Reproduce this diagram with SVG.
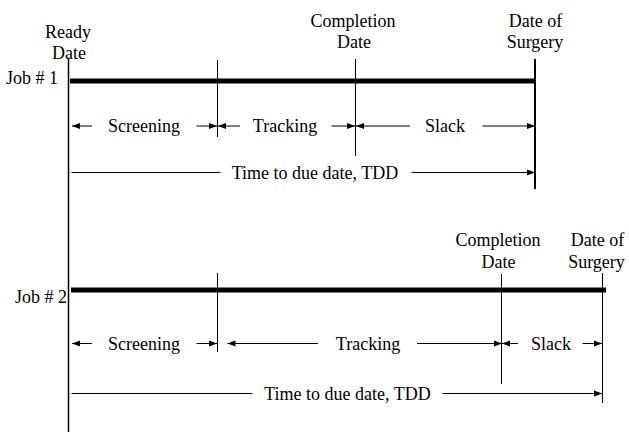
<svg xmlns="http://www.w3.org/2000/svg" width="629" height="432" viewBox="0 0 629 432">
  <style>
    text { font-family: "Liberation Serif", "Times New Roman", serif; font-size: 18px; fill: #000; }
    .mid { text-anchor: middle; }
    .end { text-anchor: end; }
    .bar { stroke: #000; stroke-width: 5; }
    .tick { stroke: #000; stroke-width: 1; fill: none; }
    .dim { stroke: #000; stroke-width: 1; fill: none; }
    .arr { stroke: #000; stroke-width: 1; fill: none; marker-end: url(#head); }
  </style>
  <defs>
    <marker id="head" markerUnits="userSpaceOnUse" markerWidth="9" markerHeight="7" refX="8" refY="3.5" orient="auto">
      <path d="M0,0.5 L8,3.5 L0,6.5 Z" fill="#000"/>
    </marker>
  </defs>
  <rect width="629" height="432" fill="#fff"/>

  <!-- shared start line -->
  <g id="ready-date">
    <line x1="68.5" y1="58" x2="68.5" y2="432" stroke="#000" stroke-width="1.5"/>
    <text class="mid" x="68" y="38">Ready</text>
    <text class="mid" x="69" y="59">Date</text>
  </g>

  <!-- job 1 timeline -->
  <g id="job1">
    <text class="end" x="58" y="84">Job # 1</text>
    <line class="bar" x1="70" y1="81" x2="535" y2="81"/>
    <line class="tick" x1="217.5" y1="60" x2="217.5" y2="137"/>
    <text class="mid" x="144" y="132">Screening</text>
    <text class="mid" x="285" y="132">Tracking</text>
    <text class="mid" x="445" y="132">Slack</text>
    <text class="mid" x="315" y="179">Time to due date, TDD</text>
  </g>
  <g id="job1-completion">
    <line class="tick" x1="355.5" y1="59" x2="355.5" y2="156"/>
    <text class="mid" x="353" y="27">Completion</text>
    <text class="mid" x="354" y="48">Date</text>
  </g>
  <g id="job1-surgery">
    <line x1="535" y1="59" x2="535" y2="189" stroke="#000" stroke-width="2"/>
    <text class="mid" x="535.5" y="27">Date of</text>
    <text class="mid" x="535" y="48">Surgery</text>
  </g>

  <!-- job 2 timeline -->
  <g id="job2">
    <text class="end" x="67" y="303">Job # 2</text>
    <line class="bar" x1="71" y1="290" x2="606" y2="290"/>
    <line class="tick" x1="217.5" y1="273" x2="217.5" y2="352"/>
    <text class="mid" x="144" y="350">Screening</text>
    <text class="mid" x="368" y="350">Tracking</text>
    <text class="mid" x="551" y="350">Slack</text>
    <text class="mid" x="347.5" y="400">Time to due date, TDD</text>
  </g>
  <g id="job2-completion">
    <line class="tick" x1="501.5" y1="274" x2="501.5" y2="384"/>
    <text class="mid" x="498" y="246">Completion</text>
    <text class="mid" x="498.5" y="268">Date</text>
  </g>
  <g id="job2-surgery">
    <line class="tick" x1="602.5" y1="273" x2="602.5" y2="403"/>
    <text class="mid" x="597.5" y="246">Date of</text>
    <text class="mid" x="596.5" y="268">Surgery</text>
  </g>

  <!-- dimension arrows -->
  <g id="connectors">
    <!-- job 1 phases -->
    <line class="arr" x1="92" y1="126" x2="72" y2="126"/>
    <line class="arr" x1="196.5" y1="126" x2="217" y2="126"/>
    <line class="arr" x1="240" y1="126" x2="218" y2="126"/>
    <line class="arr" x1="331.5" y1="126" x2="355" y2="126"/>
    <line class="arr" x1="410" y1="126" x2="356" y2="126"/>
    <line class="arr" x1="482.5" y1="126" x2="535" y2="126"/>
    <!-- job 1 due date -->
    <line class="dim" x1="71.5" y1="172.5" x2="220.5" y2="172.5"/>
    <line class="arr" x1="411.5" y1="172.5" x2="535" y2="172.5"/>

    <!-- job 2 phases -->
    <line class="arr" x1="92" y1="343.5" x2="72" y2="343.5"/>
    <line class="arr" x1="196.5" y1="343.5" x2="217" y2="343.5"/>
    <line class="arr" x1="318" y1="343.5" x2="227.5" y2="343.5"/>
    <line class="arr" x1="417" y1="343.5" x2="502" y2="343.5"/>
    <line class="arr" x1="518" y1="343.5" x2="502" y2="343.5"/>
    <line class="arr" x1="582.5" y1="343.5" x2="602" y2="343.5"/>
    <!-- job 2 due date -->
    <line class="dim" x1="71.5" y1="393.5" x2="252.5" y2="393.5"/>
    <line class="arr" x1="442.5" y1="393.5" x2="602" y2="393.5"/>
  </g>
</svg>
